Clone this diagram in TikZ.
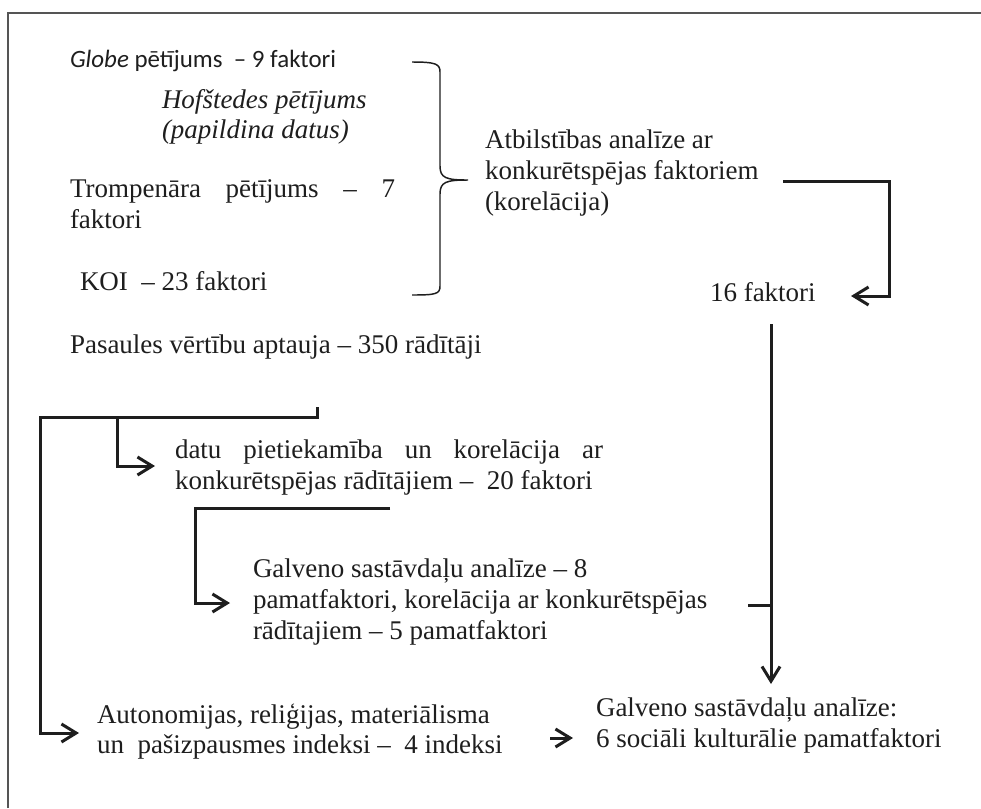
\documentclass[tikz,border=0pt]{standalone}
\usepackage{fontspec}
\setmainfont{Liberation Serif}
\newfontfamily\calibri{Carlito}
\usetikzlibrary{arrows.meta,calc}
\definecolor{ink}{HTML}{1E1E1E}
\definecolor{framecol}{HTML}{555555}
\newcommand\ml[1]{\begin{tabular}[t]{@{}l@{}}#1\end{tabular}}
\begin{document}
\begin{tikzpicture}[x=0.75pt,y=-0.75pt,
  txt/.style={anchor=base west, inner sep=0pt, outer sep=0pt, text=ink,
              font=\fontsize{20.25}{23.25}\selectfont},
  sanstxt/.style={txt, font=\calibri\fontsize{18.7}{22}\selectfont},
  conn/.style={draw=ink, line width=2.25pt, line join=miter},
  arr/.style={conn, -{Straight Barb[length=11pt,width=13.5pt]}},
  bracestyle/.style={draw=ink, line width=1.1pt}]
\useasboundingbox (0,0) rectangle (981,808);
\fill[white] (0,0) rectangle (981,808);
% frame (only top and left edges visible)
\draw[framecol, line width=1.5pt] (8,808) -- (8,13) -- (981,13);

% text blocks
\node[sanstxt] (globe) at (70,67) {\textit{Globe} pētījums\ \ – 9 faktori};
\node[txt, font=\fontsize{20.25}{22.5}\selectfont\itshape] (hof) at (162,108) {\ml{Hofštedes pētījums\\(papildina datus)}};
\node[txt] (tromp) at (70,197) {\ml{\makebox[243.75pt][s]{Trompenāra pētījums – 7}\\faktori}};
\node[txt] (koi) at (80,290) {KOI\ \ – 23 faktori};
\node[txt] (pas) at (70,353) {Pasaules vērtību aptauja – 350 rādītāji};
\node[txt] (atb) at (485,148) {\ml{Atbilstības analīze ar\\konkurētspējas faktoriem\\(korelācija)}};
\node[txt] (f16) at (710,301) {16 faktori};
\node[txt] (datu) at (175,458) {\ml{\makebox[321pt][s]{datu pietiekamība un korelācija ar}\\konkurētspējas rādītājiem –\ \ 20 faktori}};
\node[txt] (galv) at (253,577) {\ml{Galveno sastāvdaļu analīze – 8\\pamatfaktori, korelācija ar konkurētspējas\\rādītajiem – 5 pamatfaktori}};
\node[txt, font=\fontsize{20.25}{22.5}\selectfont] (auto) at (97,723) {\ml{Autonomijas, reliģijas, materiālisma\\un\ \ pašizpausmes indeksi –\ \ 4 indeksi}};
\node[txt, font=\fontsize{20.25}{23.25}\selectfont] (res) at (596,716) {\ml{Galveno sastāvdaļu analīze:\\6 sociāli kulturālie pamatfaktori}};

% brace
\coordinate (bt) at (412,62);
\coordinate (bb) at (412,295);
\coordinate (btip) at (468,180);
\draw[bracestyle] (bt) .. controls (436,62) and (440,64) .. (440,72)
  -- (440,166) .. controls (440,178) and (446,180) .. (btip)
  .. controls (446,180) and (440,182) .. (440,194)
  -- (440,286) .. controls (440,294) and (436,295) .. (bb);

% connectors
\coordinate (c1s) at (783,181);
\coordinate (c1e) at (851,296);
\draw[arr] (c1s) -| ($(c1e)+(38,0)$) -- (c1e);

\coordinate (c2s) at (771,324);
\coordinate (c2e) at (771,684);
\draw[arr] (c2s) -- (c2e);

\coordinate (c3s) at (748,605);
\draw[conn] (c3s) -- (c3s -| c2s);

\coordinate (c4s) at (317,407);
\coordinate (c4e) at (79,733);
\draw[arr] (c4s) -- ++(0,10) -| ($(c4e)+(-39,0)$) -- (c4e);

\coordinate (c5b) at (117,417);
\coordinate (c5e) at (155,466);
\draw[arr] (c5b) |- (c5e);

\coordinate (c6s) at (390,508);
\coordinate (c6e) at (230,603);
\draw[arr] (c6s) -| ($(c6e)+(-35,0)$) -- (c6e);

\coordinate (c7s) at (550,738);
\coordinate (c7e) at (573,738);
\draw[arr] (c7s) -- (c7e);
\end{tikzpicture}
\end{document}
